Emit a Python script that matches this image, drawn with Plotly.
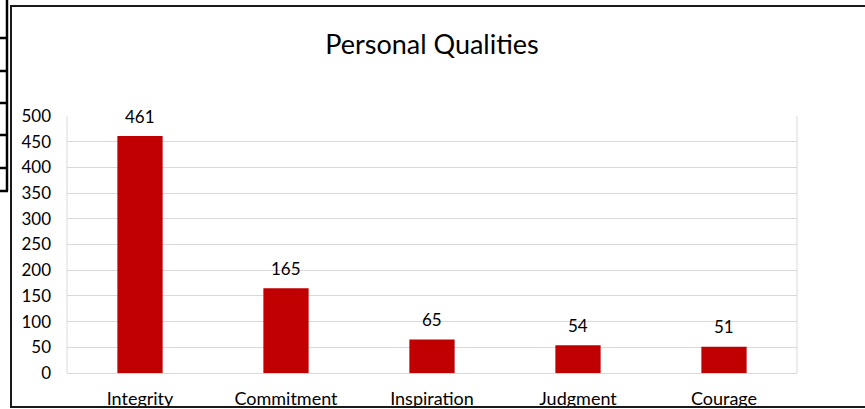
import plotly.graph_objects as go

categories = ["Integrity", "Commitment", "Inspiration", "Judgment", "Courage"]
counts = [461, 165, 65, 54, 51]
y_ticks = [0, 50, 100, 150, 200, 250, 300, 350, 400, 450, 500]

W, H = 865, 409
L, R, T, B = 67, 797, 116, 373   # plot area in pixels


def px(x):
    return (x - L) / (R - L)


def py(y):
    return (B - y) / (B - T)


fig = go.Figure()
fig.add_trace(go.Bar(
    x=categories, y=counts,
    marker=dict(color="#C00000", line=dict(width=0)),
    hoverinfo="x+y",
))

# value labels sit about 20px above each bar
for c, v in zip(categories, counts):
    fig.add_annotation(x=c, y=v, text=str(v), showarrow=False,
                       yanchor="middle", yshift=20,
                       font=dict(size=17, color="#000000"))

shapes = []
# chart frame
shapes.append(dict(type="rect", xref="paper", yref="paper",
                   x0=px(11), x1=px(900), y0=py(407), y1=py(6),
                   line=dict(color="#1a1a1a", width=2), layer="above"))
# spreadsheet cell lines at the left edge
shapes.append(dict(type="line", xref="paper", yref="paper",
                   x0=px(7), x1=px(7), y0=py(191), y1=py(-2),
                   line=dict(color="#000000", width=2.5)))
for yy in [38, 71, 103, 135, 168, 191]:
    shapes.append(dict(type="line", xref="paper", yref="paper",
                       x0=px(-5), x1=px(8), y0=py(yy), y1=py(yy),
                       line=dict(color="#000000", width=2.5)))
# plot area side lines
for xx in [L, R]:
    shapes.append(dict(type="line", xref="paper", yref="paper",
                       x0=px(xx), x1=px(xx), y0=0, y1=1,
                       line=dict(color="#d9d9d9", width=1), layer="below"))

fig.update_layout(
    width=W, height=H,
    margin=dict(l=L, r=W - R, t=T, b=H - B, pad=0, autoexpand=False),
    paper_bgcolor="white", plot_bgcolor="white",
    font=dict(family="Lato, Carlito, sans-serif", size=17, color="#000000"),
    title=dict(text="Personal Qualities", x=0.5, xanchor="center",
               xref="paper", y=(H - 45) / H, yanchor="middle",
               font=dict(size=27, color="#000000")),
    showlegend=False,
    bargap=0.69,
    shapes=shapes,
    xaxis=dict(showgrid=False, showline=True, linecolor="#d9d9d9",
               ticks="", ticklabelstandoff=9, automargin=False,
               tickfont=dict(size=18)),
    yaxis=dict(range=[0, 500], tickvals=y_ticks, showgrid=True,
               gridcolor="#d9d9d9", gridwidth=1, zeroline=False,
               showline=False, ticks="", ticklabelstandoff=15,
               automargin=False, tickfont=dict(size=17)),
)

fig.write_html("out.html", config={"displayModeBar": False},
               post_script="document.body.style.margin='0';")
